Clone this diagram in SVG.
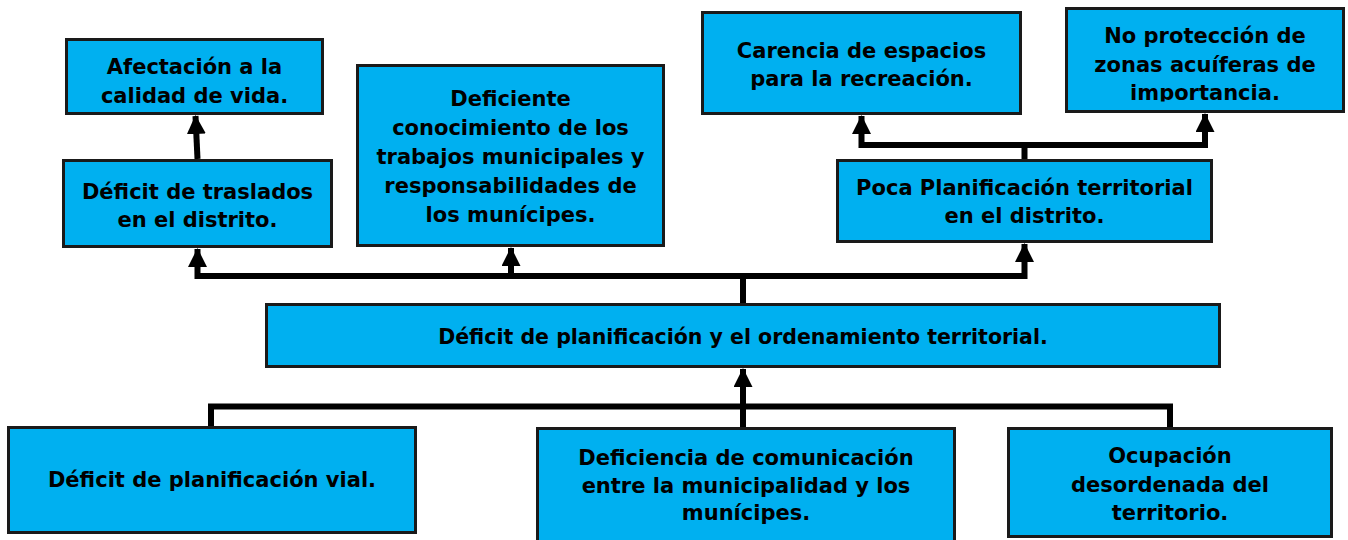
<svg xmlns="http://www.w3.org/2000/svg" width="1348" height="540" viewBox="0 0 1348 540">
<style>
.box{fill:#00B0F0;stroke:#1a1a1a;stroke-width:3}
.t{font-family:"DejaVu Sans","Liberation Sans",sans-serif;font-weight:bold;font-size:21px;fill:#000;text-anchor:middle}
.c{fill:none;stroke:#000;stroke-width:6;stroke-linejoin:miter;stroke-linecap:butt}
</style>
<defs>
<marker id="ah" viewBox="0 0 18 18" refX="17" refY="9" markerWidth="19" markerHeight="19" markerUnits="userSpaceOnUse" orient="auto">
<path d="M0,0 L18,9 L0,18 Z" fill="#000"/>
</marker>
<clipPath id="clipNP"><rect x="1066" y="8" width="278" height="93.5"/></clipPath>
</defs>
<rect width="1348" height="540" fill="#fff"/>
<g id="connectors">
<path class="c" d="M197.5,159 L195.5,116" marker-end="url(#ah)"/>
<path class="c" d="M743,303 V276 H197.5 V249" marker-end="url(#ah)"/>
<path class="c" d="M743,276 H511 V248" marker-end="url(#ah)"/>
<path class="c" d="M743,276 H1024.5 V244" marker-end="url(#ah)"/>
<path class="c" d="M1024.5,159 V145 H861.5 V116" marker-end="url(#ah)"/>
<path class="c" d="M1024.5,145 H1205 V114" marker-end="url(#ah)"/>
<path class="c" d="M211,427 V406.5 H1170 V427"/>
<path class="c" d="M743,427 V369" marker-end="url(#ah)"/>
</g>
<g id="n-afectacion">
<rect class="box" x="66.5" y="39.5" width="256" height="74"/>
<text class="t" x="194.5" y="74">Afectación a la</text>
<text class="t" x="194.5" y="103">calidad de vida.</text>
</g>
<g id="n-traslados">
<rect class="box" x="63.5" y="160.5" width="268" height="86"/>
<text class="t" x="197.5" y="199">Déficit de traslados</text>
<text class="t" x="197.5" y="227">en el distrito.</text>
</g>
<g id="n-deficiente">
<rect class="box" x="357.5" y="65.5" width="306" height="180"/>
<text class="t" x="510.5" y="106">Deficiente</text>
<text class="t" x="510.5" y="135">conocimiento de los</text>
<text class="t" x="510.5" y="164">trabajos municipales y</text>
<text class="t" x="510.5" y="193">responsabilidades de</text>
<text class="t" x="510.5" y="222">los munícipes.</text>
</g>
<g id="n-carencia">
<rect class="box" x="702.5" y="12.5" width="318" height="101"/>
<text class="t" x="861.5" y="58">Carencia de espacios</text>
<text class="t" x="861.5" y="86">para la recreación.</text>
</g>
<g id="n-noproteccion">
<rect class="box" x="1066.5" y="8.5" width="277" height="103"/>
<g clip-path="url(#clipNP)">
<text class="t" x="1205" y="43">No protección de</text>
<text class="t" x="1205" y="72">zonas acuíferas de</text>
<text class="t" x="1205" y="100">importancia.</text>
</g>
</g>
<g id="n-poca">
<rect class="box" x="837.5" y="160.5" width="374" height="81"/>
<text class="t" x="1024.5" y="195">Poca Planificación territorial</text>
<text class="t" x="1024.5" y="223">en el distrito.</text>
</g>
<g id="n-central">
<rect class="box" x="266.5" y="304.5" width="953" height="62"/>
<text class="t" x="743" y="344" style="font-size:20.5px">Déficit de planificación y el ordenamiento territorial.</text>
</g>
<g id="n-vial">
<rect class="box" x="8.5" y="427.5" width="407" height="105"/>
<text class="t" x="212" y="487">Déficit de planificación vial.</text>
</g>
<g id="n-comunicacion">
<rect class="box" x="537.5" y="428.5" width="417" height="120"/>
<text class="t" x="746" y="465">Deficiencia de comunicación</text>
<text class="t" x="746" y="493">entre la municipalidad y los</text>
<text class="t" x="746" y="520">munícipes.</text>
</g>
<g id="n-ocupacion">
<rect class="box" x="1008.5" y="428.5" width="323" height="108"/>
<text class="t" x="1170" y="463">Ocupación</text>
<text class="t" x="1170" y="492">desordenada del</text>
<text class="t" x="1170" y="520">territorio.</text>
</g>
</svg>
